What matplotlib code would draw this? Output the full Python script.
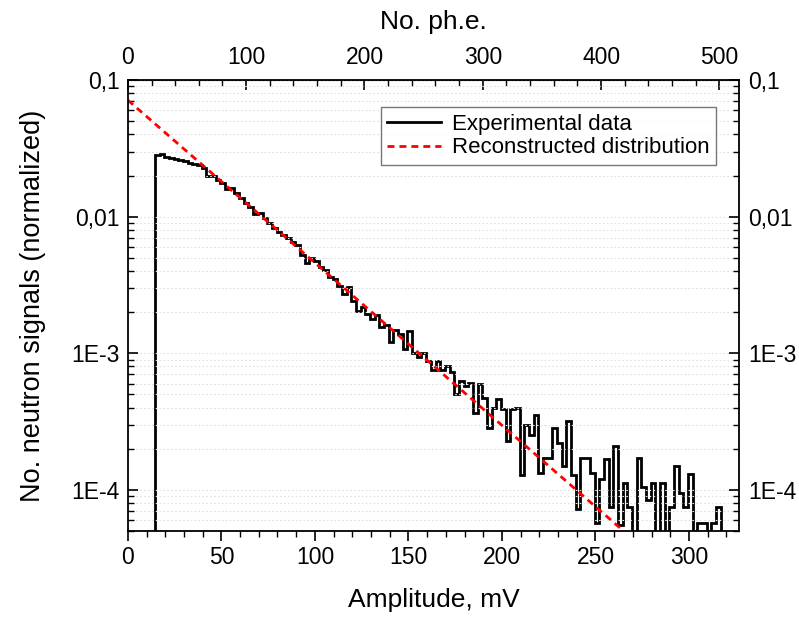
import numpy as np
import matplotlib
matplotlib.use("Agg")
import matplotlib.pyplot as plt
from matplotlib.ticker import FixedLocator, FixedFormatter, LogLocator, MultipleLocator, NullFormatter

plt.rcParams['font.family'] = ['Liberation Sans', 'DejaVu Sans']

# histogram of experimental data: bins of 2.5 mV starting at 14.5 mV
bin_start = 14.5
bin_width = 2.5
exp_values = [
    0.0282, 0.0287, 0.0275, 0.0270, 0.0266, 0.0261, 0.0255, 0.0249, 0.0243, 0.0241,
    0.0229, 0.0198, 0.0199, 0.0187, 0.0175, 0.0159, 0.0163, 0.0149, 0.0136, 0.0126,
    0.0118, 0.0104, 0.0106, 0.0097, 0.0090, 0.0083, 0.0077, 0.0074, 0.0070, 0.0065,
    0.0062, 0.00528, 0.00456, 0.00497, 0.00477, 0.00431, 0.00408, 0.00360, 0.00348, 0.00313,
    0.00272, 0.00304, 0.00243, 0.00205, 0.00217, 0.00194, 0.00178, 0.00191, 0.00156, 0.00162,
    0.00120, 0.00148, 0.00138, 0.00107, 0.00146, 0.00101, 0.00094, 0.00101, 0.00088, 0.00076,
    0.00088, 0.00076, 0.000807, 0.00073, 0.00050, 0.000626, 0.000575, 0.000608, 0.000366, 0.000592,
    0.000472, 0.000284, 0.000399, 0.000464, 0.000388, 0.000227, 0.000388, 0.000399, 0.000129, 0.000296,
    0.000254, 0.000356, 0.000133, 0.000171, 0.000171, 0.000284, 0.000220, 0.000149, 0.000318, 0.000129,
    0.000073, 0.000171, 0.000171, 0.000133, 0.000057, 0.000120, 0.000168, 0.000075, 0.000208, 0.000055,
    0.000113, 0.000075, 0.0, 0.000171, 0.000105, 0.000084, 0.000113, 0.0, 0.000113, 0.0,
    0.000075, 0.000150, 0.000095, 0.000075, 0.000131, 0.0, 0.000057, 0.000057, 0.0, 0.000057,
    0.000075,
]

# reconstructed exponential distribution (straight line on log scale)
recon_x = [0, 265]
recon_y = [0.0713, 5.0e-5]

PHE_PER_MV = 1.581

y_ticks = [1e-4, 1e-3, 1e-2, 1e-1]
y_labels = ["1E-4", "1E-3", "0,01", "0,1"]
phe_ticks = [0, 100, 200, 300, 400, 500]
phe_minor = [20, 40, 60, 80, 120, 140, 160, 180, 220, 240, 260, 280,
             320, 340, 360, 380, 420, 440, 460, 480]

fig = plt.figure(figsize=(7.99, 6.21), dpi=100)
ax = fig.add_axes([0.160, 0.145, 0.7655, 0.726])

edges = bin_start + bin_width * np.arange(len(exp_values) + 1)
ax.set_yscale('log', nonpositive='clip')
ax.stairs(exp_values, edges, baseline=1e-7, color='black', lw=2.0,
          label='Experimental data')
ax.plot(recon_x, recon_y, color='red', lw=2.0, linestyle=(0, (2.5, 1.8)),
        label='Reconstructed distribution')

ax.set_xlim(0, 327)
ax.set_ylim(5e-5, 0.1)

ax.xaxis.set_major_locator(MultipleLocator(50))
ax.xaxis.set_minor_locator(MultipleLocator(10))
ax.yaxis.set_major_locator(FixedLocator(y_ticks))
ax.yaxis.set_major_formatter(FixedFormatter(y_labels))
ax.yaxis.set_minor_locator(LogLocator(base=10, subs=np.arange(2, 10)))
ax.yaxis.set_minor_formatter(NullFormatter())

ax.tick_params(axis='x', which='major', direction='out', length=7, width=1.2, labelsize=16.5)
ax.tick_params(axis='x', which='minor', direction='out', length=4, width=1.0)
ax.tick_params(axis='y', which='major', direction='in', length=7, width=1.2, pad=6,
               left=True, right=True, labelleft=True, labelright=True, labelsize=16.5)
ax.tick_params(axis='y', which='minor', direction='in', length=4, width=1.0,
               left=True, right=True)
for s in ax.spines.values():
    s.set_linewidth(1.3)

ax.grid(True, which='both', axis='y', color='#e0e0e0', linestyle=(0, (1.5, 2)), lw=0.8)

ax.set_xlabel('Amplitude, mV', fontsize=19, labelpad=14)
ax.set_ylabel('No. neutron signals (normalized)', fontsize=19.5, labelpad=18)

# top axis: number of photoelectrons
top = ax.secondary_xaxis('top', functions=(lambda x: x * PHE_PER_MV, lambda p: p / PHE_PER_MV))
top.xaxis.set_major_locator(FixedLocator(phe_ticks))
top.xaxis.set_minor_locator(FixedLocator(phe_minor))
top.tick_params(axis='x', which='major', direction='in', length=7, width=1.2, labelsize=16.5, pad=8)
top.tick_params(axis='x', which='minor', direction='in', length=4, width=1.0)
top.set_xlabel('No. ph.e.', fontsize=19, labelpad=12)

leg = ax.legend(loc='upper right', bbox_to_anchor=(0.98, 0.965), fontsize=16, frameon=True,
                fancybox=False, edgecolor='#555555', handlelength=2.4, borderpad=0.3,
                labelspacing=0.12, handletextpad=0.5)
leg.get_frame().set_linewidth(1.0)

fig.savefig('out.png', dpi=100)
